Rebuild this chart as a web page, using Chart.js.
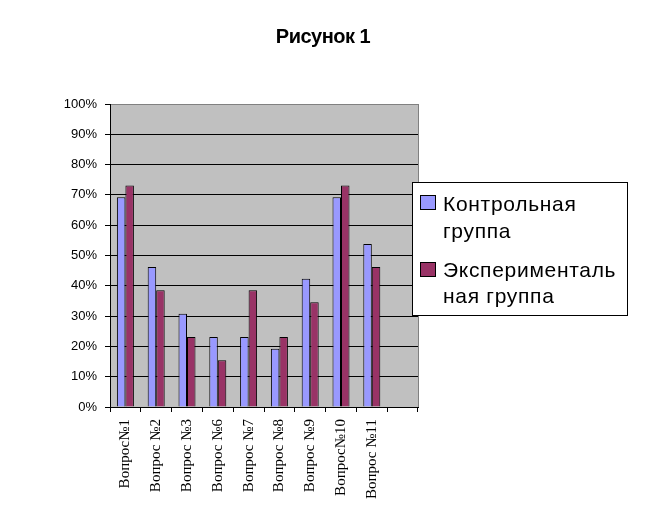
<!DOCTYPE html>
<html><head><meta charset="utf-8">
<script src="https://cdn.jsdelivr.net/npm/chart.js@4.4.1/dist/chart.umd.min.js"></script>
<style>html,body{margin:0;padding:0;background:#fff;}#wrap{position:relative;width:646px;height:511px;}</style>
</head><body><div id="wrap"><canvas id="c" width="646" height="511"></canvas></div>
<script>
const categories = ['Вопрос№1','Вопрос №2','Вопрос №3','Вопрос №6','Вопрос №7','Вопрос №8','Вопрос №9','Вопрос№10','Вопрос №11',''];
const controlGroup = [0.692,0.462,0.308,0.231,0.231,0.192,0.423,0.692,0.538,null];
const experimentalGroup = [0.731,0.385,0.231,0.154,0.385,0.231,0.346,0.731,0.462,null];
const seriesNames = ['Контрольная группа','Экспериментальная группа'];
const legendLines = [['Контрольная','группа'],['Эксперименталь','ная группа']];
const seriesColors = ['#9999FF','#993366'];
const chartTitle = 'Рисунок 1';

const bgPlugin = {
  id:'bg',
  beforeDraw(chart){
    const {ctx, chartArea:a} = chart;
    ctx.save(); ctx.fillStyle='#C0C0C0';
    ctx.fillRect(a.left, a.top, a.right-a.left, a.bottom-a.top);
    ctx.restore();
  },
  beforeDatasetsDraw(chart){
    const {ctx, chartArea:a} = chart;
    ctx.save(); ctx.strokeStyle='#808080'; ctx.lineWidth=1;
    ctx.beginPath(); ctx.moveTo(Math.round(a.right)+0.5, a.top); ctx.lineTo(Math.round(a.right)+0.5, a.bottom); ctx.stroke();
    ctx.restore();
  }
};
const overlayPlugin = {
  id:'overlay',
  afterDraw(chart){
    const ctx = chart.ctx;
    ctx.save();
    ctx.fillStyle='#000';
    ctx.font = 'bold 20px "Liberation Sans", Arial, sans-serif';
    ctx.letterSpacing = '-0.5px';
    ctx.textAlign='center'; ctx.textBaseline='alphabetic';
    ctx.fillText(chartTitle, 323, 43);
    ctx.fillStyle='#fff'; ctx.fillRect(412,182,215,133);
    ctx.strokeStyle='#000'; ctx.lineWidth=1; ctx.strokeRect(412.5,182.5,215,133);
    const sw = [195,262];
    const base = [[211,238],[277,303]];
    ctx.font = '21px "Liberation Sans", Arial, sans-serif';
    ctx.letterSpacing = '0.7px';
    ctx.textAlign='left';
    for (let i=0;i<2;i++){
      ctx.fillStyle = seriesColors[i];
      ctx.fillRect(420,sw[i],16,15);
      ctx.strokeStyle='#000'; ctx.strokeRect(420.5,sw[i]+0.5,15,14);
      ctx.fillStyle='#000';
      legendLines[i].forEach((t,j)=>ctx.fillText(t,443,base[i][j]));
    }
    ctx.restore();
  }
};

new Chart(document.getElementById('c'), {
  type:'bar',
  data:{labels:categories, datasets:[
    {label:seriesNames[0], data:controlGroup, backgroundColor:seriesColors[0], borderColor:'#000', borderWidth:1, categoryPercentage:0.552, barPercentage:1},
    {label:seriesNames[1], data:experimentalGroup, backgroundColor:seriesColors[1], borderColor:'#000', borderWidth:1, categoryPercentage:0.552, barPercentage:1}
  ]},
  options:{
    responsive:false, animation:false, devicePixelRatio:1,
    layout:{padding:{left:0,right:228,top:104,bottom:0}},
    plugins:{ legend:{display:false}, tooltip:{enabled:false}, title:{display:false} },
    scales:{
      x:{offset:true,
        grid:{display:true, drawOnChartArea:false, drawTicks:true, tickLength:5, color:'#000', offset:true},
        border:{display:true, color:'#000'},
        ticks:{autoSkip:false, maxRotation:90, minRotation:90, padding:7, color:'#000', font:{family:'"Liberation Serif", "Times New Roman", serif', size:15}},
        afterFit:s=>{s.height=104;}
      },
      y:{min:0, max:1,
        ticks:{stepSize:0.1, callback:v=>Math.round(v*100)+'%', color:'#000', padding:8, font:{family:'"Liberation Sans", Arial, sans-serif', size:13}},
        grid:{color:c=>(c.tick && c.tick.value>0.999)?'#808080':'#000', tickColor:'#000', tickLength:5},
        border:{display:true, color:'#000'},
        afterFit:s=>{s.width=110;}
      }
    }
  },
  plugins:[bgPlugin, overlayPlugin]
});
</script></body></html>
